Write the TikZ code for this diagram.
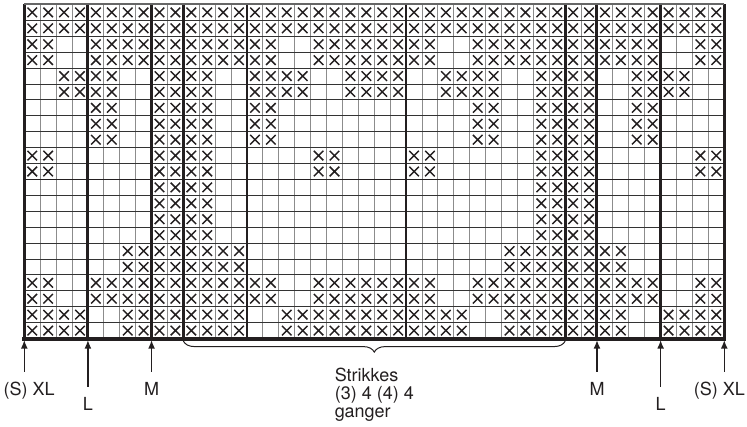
\documentclass[tikz,border=0pt]{standalone}
\usepackage{fontspec}
\setmainfont{TeX Gyre Heros}
\usetikzlibrary{arrows.meta,positioning,decorations.pathreplacing}
\definecolor{ink}{RGB}{35,31,32}
\tikzset{
  >={Latex[length=4.2pt,width=3.4pt]},
  gridline/.style={line width=0.45pt,draw=#1},
  gridline/.default=black!45,
  tenline/.style={line width=0.8pt,draw=ink},
  sizeline/.style={line width=1.5pt,draw=ink},
  sizemark/.style={->,line width=0.6pt,draw=ink},
  chartlabel/.style={font=\fontsize{9}{8.9}\selectfont,text=ink,inner sep=0pt},
  % one knitted stitch
  pics/stitch/.style={code={
    \draw[ink,line width=0.72pt] (-0.3,-0.3) -- (0.3,0.3) (-0.3,0.3) -- (0.3,-0.3);
  }},
}
\begin{document}
\begin{tikzpicture}[x=7.9545pt,y=7.9545pt]
  \useasboundingbox (-1.527,-5.5) rectangle (45.43,21.28);
  % grid
  \foreach \i in {0,...,44} \draw[gridline] (\i,0) -- (\i,21);
  \foreach \j in {0,...,21} \draw[gridline=black!80] (0,\j) -- (44,\j);
  \foreach \i in {4,14,24,34} \draw[tenline] (\i,0) -- (\i,21);
  \draw[tenline] (0,10) -- (44,10);
  % stitches: left half, mirrored to the right
  \foreach \b/\cols in {
      20/{1,...,22}, 19/{1,...,22},
      18/{1,2,5,6,7,8,9,10,11,12,13,14,15,16,19,20,21,22},
      17/{1,2,5,6,7,8,9,10,11,12,13,14,15,16,19,20,21,22},
      16/{3,4,5,6,9,10,11,12,15,16,17,18,21,22},
      15/{3,4,5,6,9,10,11,12,15,16,17,18,21,22},
      14/{5,6,9,10,11,12,15,16}, 13/{5,6,9,10,11,12,15,16},
      12/{5,6,9,10,11,12,15,16},
      11/{1,2,9,10,11,12,19,20}, 10/{1,2,9,10,11,12,19,20},
      9/{9,10,11,12}, 8/{9,10,11,12}, 7/{9,10,11,12}, 6/{9,10,11,12},
      5/{7,...,14}, 4/{7,...,14},
      3/{1,2,5,6,7,8,9,10,11,12,13,14,15,16,19,20,21,22},
      2/{1,2,5,6,7,8,9,10,11,12,13,14,15,16,19,20,21,22},
      1/{1,2,3,4,7,8,9,10,11,12,13,14,17,18,19,20,21,22},
      0/{1,2,3,4,7,8,9,10,11,12,13,14,17,18,19,20,21,22}}{
    \foreach \c in \cols {
      \pic at ({\c-0.5},{\b+0.5}) {stitch};
      \pic at ({44.5-\c},{\b+0.5}) {stitch};
    }
  }
  % size lines and frame
  \foreach \i in {0,4,8,10,34,36,40,44} \draw[sizeline] (\i,0) -- (\i,21);
  \draw[line width=1pt,draw=black!60] (0,21) -- (44,21);
  \draw[line width=2pt,draw=ink,line cap=rect] (0,0) -- (44,0);
  % size arrows
  \foreach \n/\x/\y/\txt/\dx in {xll/0/-2.09/(S) XL/0.3, ll/4/-3.03/L/0, ml/8/-2.09/M/0,
      mr/36/-2.09/M/0, lr/40/-3.03/L/0, xlr/44/-2.09/(S) XL/-0.3}{
    \coordinate (\n top) at (\x,-0.1);
    \coordinate (\n foot) at (\x,\y);
    \draw[sizemark] (\n foot) -- (\n top);
    \node[chartlabel,anchor=base] (\n) at ({\x+\dx},{\y-1.52}) {\txt};
  }
  % repeat
  \coordinate (repstart) at (10,-0.16);
  \coordinate (repend) at (34,-0.16);
  \coordinate (reptip) at (22,-0.85);
  \draw[ink,line width=0.5pt,decorate,decoration={brace,mirror,amplitude=5.5pt}] (repstart) -- (repend);
  \node[chartlabel,align=left,below=8pt of reptip] (repnote) {Strikkes\\(3) 4 (4) 4\\ganger};
\end{tikzpicture}
\end{document}
